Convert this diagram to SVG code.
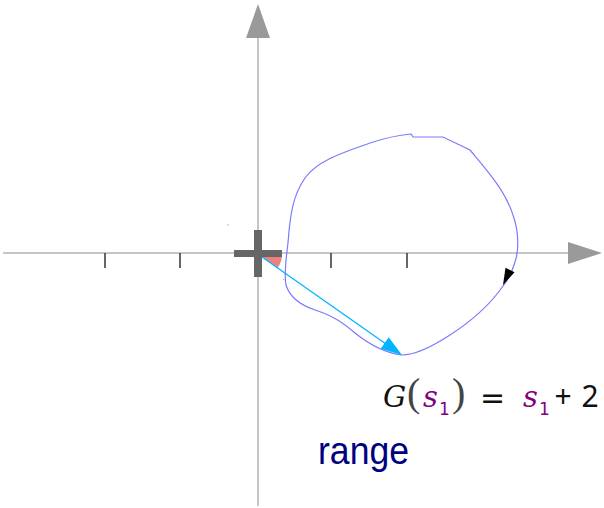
<svg xmlns="http://www.w3.org/2000/svg" width="604" height="508" viewBox="0 0 604 508">
<style>
.axis{stroke:#c6c6c6;stroke-width:2;fill:none}
.axhead{fill:#9a9a9a}
.tick{stroke:#333;stroke-width:1.5}
.serif{font-family:"DejaVu Serif",serif;font-style:italic}
.paren{font-family:"Liberation Serif",serif;font-size:40px;fill:#444}
.sub{font-family:"DejaVu Sans",sans-serif;font-size:17px;fill:#800080}
.num{font-family:"Noto Sans","DejaVu Sans",sans-serif;font-size:30px;fill:#111}
</style>
<rect width="604" height="508" fill="#fff"/>
<g id="axes">
<line class="axis" x1="3" y1="253" x2="570" y2="253"/>
<polygon class="axhead" points="568,242 602,253 568,264"/>
<line class="axis" x1="258" y1="36" x2="258" y2="506"/>
<polygon class="axhead" points="246,38 258,4 270,38"/>
<line class="tick" x1="105" y1="253" x2="105" y2="268"/>
<line class="tick" x1="180" y1="253" x2="180" y2="268"/>
<line class="tick" x1="331" y1="253" x2="331" y2="268"/>
<line class="tick" x1="407" y1="253" x2="407" y2="268"/>
</g>
<g id="angle">
<path d="M258,254 L282,254 A24,24 0 0 1 277.7,267.8 Z" fill="#f08080"/>
</g>
<g id="contour">
<path d="M288,243 C290,215 293,195 305,178 C318,160 345,152 370,143 C385,138 400,135 411,134 L413,137 L443,137 L470,150 C485,168 505,190 513,215 C519,232 519,250 515,262 C512,272 508,280 503,286 C490,305 470,322 450,335 C430,348 415,355 402,355 C385,353 370,345 355,333 C340,320 330,315 315,310 C300,305 290,298 286,285 C284,275 286,258 288,243 Z" fill="none" stroke="#7a7aff" stroke-width="1.2"/>
<polygon points="503,285 505.5,267.8 514.5,272.2" fill="#000"/>
</g>
<g id="connectors">
<line x1="262" y1="257" x2="386" y2="344" stroke="#00b4ff" stroke-width="1.3"/>
<polygon points="402,355 380.7,348.8 388.7,337.2" fill="#00b4ff"/>
</g>
<g id="origin">
<rect x="254" y="230" width="8" height="47" fill="#666"/>
<rect x="234" y="250" width="48" height="7" fill="#666"/>
</g>
<rect x="227" y="224" width="2" height="2" fill="#ddd"/>
<rect x="283" y="279" width="1" height="1" fill="#9999cc"/>
<g id="equation">
<text class="serif" x="383" y="407" font-size="29" fill="#111">G</text>
<text class="paren" x="407" y="406">(</text>
<text class="serif" x="423" y="407" font-size="29" fill="#800080">s</text>
<text class="sub" x="439" y="415">1</text>
<text class="paren" x="452" y="406">)</text>
<text x="492.5" y="408" font-family="DejaVu Sans,sans-serif" font-size="30" fill="#111" text-anchor="middle">=</text>
<text class="serif" x="523" y="407" font-size="29" fill="#800080">s</text>
<text class="sub" x="539" y="415">1</text>
<text class="num" x="563" y="407" text-anchor="middle">+</text>
<text class="num" x="590" y="407" text-anchor="middle">2</text>
</g>
<g id="label">
<text x="318" y="464" font-family="Liberation Sans,Arial,sans-serif" font-size="38" fill="#000080" textLength="91" lengthAdjust="spacingAndGlyphs">range</text>
</g>
</svg>
